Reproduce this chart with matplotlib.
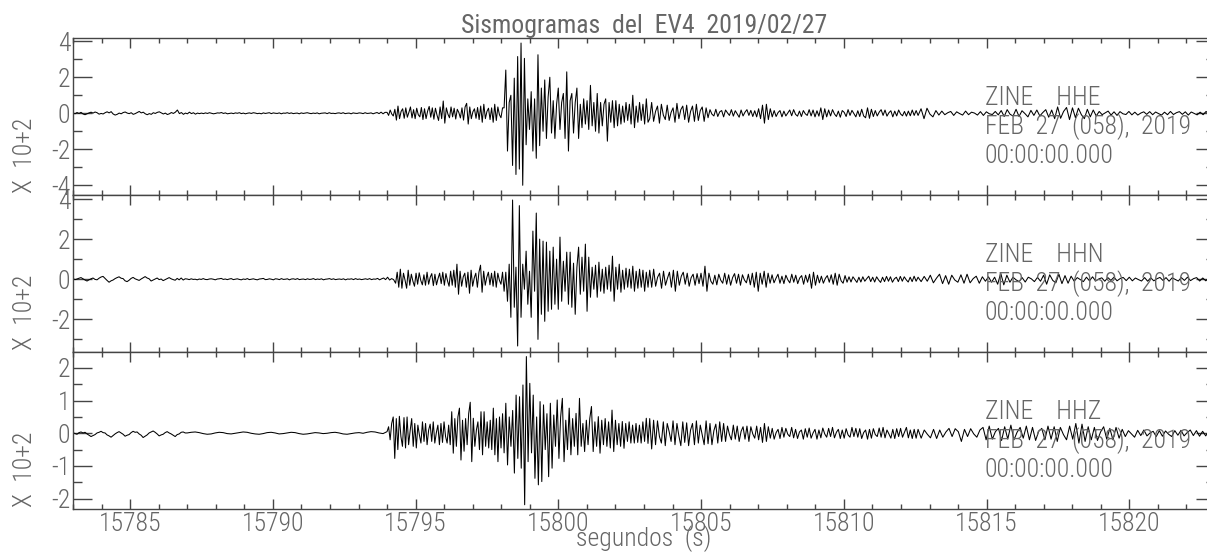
import numpy as np
from matplotlib import pyplot as plt
from matplotlib import font_manager
from matplotlib.ticker import MultipleLocator, FormatStrFormatter

TITLE = "Sismogramas  del  EV4  2019/02/27"
XLABEL = "segundos  (s)"
YLABEL = "X  10+2"
STATION = "ZINE"
CHANNELS = ["HHE", "HHN", "HHZ"]
DATE_LINE = "FEB  27  (058),  2019"
TIME_LINE = "00:00:00.000"
T_START, T_END = 15783.0, 15823.0
YLIMS = [(-4.54, 4.18), (-3.63, 4.2), (-2.32, 2.49)]
Y_MAJOR = [2, 2, 1]
Y_MINOR = [1, 1, 0.5]

# amplitudes, in hundredths of the plotted unit (X 10+2),
# one list per time window; samples are spread evenly inside each window
HHE_BREAKS = [15783.0, 15787.5, 15794.0, 15798.1, 15803.2, 15812.6, 15823.0]
HHE_PRE1 = [2, -3, 4, -1, 5, -4, -8, -3, 2, 6, 1, 7, 3, -5, -1, -4, 3, 8, 2, 9, -4, -10, -6, 1,
            -3, 4, 7, 1, -2, 3, -6, -2, 4, 10, 2, 6, -3, -8, -2, -6, 3, -1, 5, 8, 2, -4, 1, -7,
            -3, 4, -1, 6, 18, -2, 4, -6, 1, -3, 6, -2, 3, -5, 1, -2]
HHE_PRE2 = [1, -2, 2, -1, 3, 0, -3, -1, 2, 1, 4, -1, 2, -3, -1, 1, -2, 2, 0, 3, -2, 1, -3, 0,
            2, -1, 3, 1, -2, 0, -3, 2, -1, 1, 3, -2, 2, 0, -1, 2, -3, 1, 0, 3, -1, 2, -2, 0,
            1, -3, 2, -1, 1, 3, 0, -2, 1, -1, 2, -3, 0, 1, 2, -2, 3, -1, 0, -2, 1, 2, -1, 3,
            -2, 0, 1, -3, 2, 0, -1, 2, 1, -2, 3, -1, 0, 2, -3, 1, 4, -2, 6, -3, 5]
HHE_P = [5, -12, 18, -4, -15, 22, -38, 40, -30, 10, 25, -28, 30, -22, 5, 35, -26, 20, -30, 28,
         -8, -20, 32, -35, 25, -30, 12, 38, -22, 30, -33, 28, -10, -40, 35, -30, 68, -55, 30, -5,
         -25, 35, -20, 28, -32, 22, 4, -26, 30, -38, 35, 55, -60, 35, -30, 8, 25, -28, 32, -35,
         40, -50, 50, -30, 10, 28, -35, 30, -50, 50, -40, 35, -8, -25, 30]
HHE_S = [30, 240, -210, 60, 100, -290, 195, -340, 315, -310, 390, -400, 305, -175, 80, -90, 120, -210,
         80, -250, 325, -180, 140, -100, 185, -140, 90, 200, -110, 70, -140, 50, 140, -90, 60, 110,
         -140, 230, -210, 70, 110, -110, 60, 140, -140, 50, -80, 80, -60, 70, -90, 155, -70, 60,
         -100, 110, -110, 60, -70, 50, 80, -155, 60, -50, 70, -80, 70, -70, 50, -60, 40, -50, 60,
         -40, 50, -60, 100, -80, 40, -50, 60, -40, 50, -60, 80, -50]
HHE_CODA = [-30, 60, -45, 10, 40, -55, 50, -10, -35, 45, -40, 5, 30, -50, 55, -30, 20, 40, -35,
            45, -50, 10, 40, -45, 50, -40, 15, 35, -45, 30, -25,
            20, -5, -15, 22, -18, 8, 15, -20, 18, 2, -12, 20, -16, 14, -4, -22, 18, -15, 6, 20,
            -12, 16, -18, 14, -20,
            25, -30, 45, -55, 50, -35, 25, -20, 15,
            -18, 4, 15, -20, 12, -15, 2, 18, -14, 20, -6, -16, 12, -18, 15, -3, -12, 20, -15, 18,
            -20, 14, -16,
            30, -35, 25, -20, 18,
            -15, 20, -4, -18, 12, -22, 15, 5, -18, 20, -12, 16, -2, -20, 14, -18, 22, -15,
            -25, 30, -28, 22, -18, 15,
            -15, 6, 20, -12, 18, -16, 3, 14, -20, 12, -15, 18, -4, -14, 10, -16, 12, -14, 18, -12, 15]
HHE_END = [-12, 25, -30, 28, -5, -20, 15, -10, 12,
           -8, 3, 10, -12, 8, -2, -10, 12, -8, 6, 1, -10, 9, -12, 8, -3, -7, 10, -9,
           15, -18, 20, -6, -15, 22, -18, 14, -2, -20, 16, -12, 18, -15, 4, 20, -22, 18,
           -30, 35, -28, 10, 32, -35, 30, -25, 28, -8, -30, 22, -20, 18, -15,
           10, -8, 2, 12, -10, 8, -12, 9, -3, -7, 10, -9, 6, -10, 1, 8, -6, 9, -8, 7, -2, -10,
           6, -8, 10, -7, 3, 9, -6, 8, -10, 7, -1, -9, 6, -8, 10, -7, 5]

HHN_BREAKS = [15783.0, 15787.0, 15794.3, 15798.1, 15803.2, 15812.6, 15823.0]
HHN_PRE1 = [3, -2, 1, 5, 8, 2, -4, -9, -3, 2, 6, -1, -3, 5, 11, 14, 4, -6, -15, -8, -4, 3, 8, 12,
            5, 3, -8, -12, -5, 4, 9, 2, -2, -6, 1, 7, 13, 6, 2, -9, -4, 1, 6, -2, 1, -7, -2, 3,
            8, 2, -2, -5, 4, -3, 6, -4, 2]
HHN_PRE2 = [1, -2, 2, -1, 0, -3, 1, -1, 3, -1, -2, 1, 2, 0, -3, 1, 2, 4, -1, 1, -2, 1, 3, -2,
            0, 2, -1, -3, 1, -1, 3, -2, 0, 2, -1, -3, 1, 2, 4, -2, -1, 2, 0, -3, 2, 1, -2, 3,
            -1, 0, 2, -3, 1, 2, -1, 3, -2, 0, 1, -2, 2, -1, 0, 3, -2, 1, -1, 2, -3, 0, 1, 3,
            -1, 2, -2, 0, 1, -1, 2, -3, 1, 0, 2, -2, 3, -1, 1, -2, 0, 2, -1, 3, -2, 1, 0, 4,
            -3, 2, 6, -2, 10, -4, 3, -2]
HHN_P = [-20, 35, -40, 50, -45, 30, -5, -45, 45, -30, 25, -10, -35, 30, -25, 32, -6, -28, 22, -30,
         35, -25, 10, 28, -32, 25, -28, 4, 30, -22, 35, -30, 28, -8, -35, 40, -30, 45, -40, 75,
         -75, 40, -35, 12, 30, -40, 35, -70, 45, -35, 6, 30, -40, 35, 70, -65, 40, -30, 10, 35,
         -28, 30, -35, 40, -40, 30, -5, -25, 35]
HHN_S = [-60, 35, -110, 75, -190, 395, -140, 60, -333, 367, -190, 75, -50, 140, -125, 40, -190, 240,
         -60, 330, -300, 200, -175, 190, -210, 185, -160, 140, -150, 160, -125, 100, -150, 210, -110,
         90, -60, 135, -125, 135, -140, 80, -175, 60, 160, -75, 110, -60, 175, -160, 110, -90, 60,
         -50, 70, -90, 85, -60, 50, -70, 60, -50, 70, -60, 115, -110, 60, -50, 75, -65, 45, -50,
         55, -40, 50, -45, 65, -60, 40, -45, 50, -40, 45, -60, 35, -40]
HHN_CODA = [45, -40, 50, -35, 10, 30, -45, 40, -30, 5, 35, -40, 45, -60, 40, -30, 15, 35,
            -25, 30, -35, 8, 25, -30, 28, -22, 30, -35, 65, -60, 30, -10, -25,
            20, -28, 25, -5, -20, 30, -25, 22, -30, 8, 28, -20, 25, -30, 22, -4, -18, 25, -28,
            30, -40, 35, -60, 30, -25, 40, -40, 30, -20,
            22, -18, 5, 25, -20, 15, -22, 20, -3, -18, 25, -15, 20, -22, 6, 18, -25, 20, -15,
            25, -45, 35, -30, 20, -18,
            15, -20, 4, 18, -15, 22, -25, 30, -30, 25, -8, -20, 18, -15, 12,
            -14, 12, -2, -16, 10, -14, 12, -10, 3, 15, -12, 10, -14, 12, -4, -16, 10, -12, 14,
            -10, 12, -15, 2, 10, -12, 14, -10, 12, -3, -14, 10, -12, 15, -10]
HHN_END = [10, -12, 14, -10,
           20, -18, 5, 25, -22, 18, -25, 20, -4, -15, 22, -20, 25, -18, 3, 15, -20, 12,
           -10, 12, -15, 10,
           -25, 30, -28, 20, -15,
           10, -3, -12, 8, -14, 10, 2, -12, 9, -10,
           20, -25, 22, -6, -18, 25, -22, 18, -20, 15,
           -10, 8, -2, -12, 10, -8, 12, -9, 1, 7, -10, 8, -6, 10, -8, 3, 9, -7, 10, -8, 6, -2,
           -9, 8, -10, 7, -8, 2, 9, -6, 8, -10, 7, -1, -9, 8, -6, 10, -7, 3, 8, -9, 6, -8, 7, -5]

HHZ_BREAKS = [15783.0, 15787.0, 15794.0, 15798.1, 15803.2, 15812.6, 15823.0]
HHZ_PRE1 = [2, -1, -3, 2, 4, 1, 3, -2, -6, -10, -7, -4, 1, 3, 6, 2, 1, -5, -8, -12, -7, -2, 2, 5,
            1, -3, -9, -6, -4, 2, 6, 3, 4, -2, -6, -13, -9, -5, 1, 4, 7, 3, -2, -8, -5, -3, 2, 5,
            1, -2, -6, -10, -4, -2, 3, 4, 1]
HHZ_PRE2 = [1, 3, 4, 2, -1, -3, -2, 1, 3, 2, -1, -2, 0, 2, 4, 3, 0, -2, -3, -1, 2, 3, 1, -2,
            -1, 1, 3, 2, -1, -3, -2, 0, 2, 1, -1, 0, 2, 3, 1, -2, -3, -1, 1, 2, 0, 3, 5, 4, 1, -1]
HHZ_P = [5, 20, -20, 30, 50, -77, 45, -50, 52, -10, -40, 48, -45, 50, -35, 8, 45, -40, 30, -45,
         25, -5, -30, 35, -25, 30, -35, 10, 28, -25, 35, -30, 2, 25, -35, 30, -28, 35, -10, -30,
         25, -35, 66, -61, 45, -40, 50, 77, -82, 40, -55, 45, -35, 60, 95, -87, 46, -40, 10, 35,
         -50, 66, -66, 66, -40, 35, -45, 40, -50, 77, -66, 45, -87, 50, -45, 60]
HHZ_S = [-60, 92, -97, 50, -40, 70, -122, 117, -77, 112, -107, 148, -219, 235, -87, 153, -60, 117,
         -138, 50, -158, 97, -148, 87, -50, 60, -133, 92, -107, 56, -40, 102, -77, 50, 107, -87, 40,
         -50, 77, -66, 45, -40, 61, -66, 107, -40, 30, -56, 40, -35, 45, 82, -56, 35, -40, 51, -61,
         40, -35, 45, -40, 35, -45, 71, -56, 40, -35, 30, -40, 36, -46, 30, -25, 35, -30, 25, -30,
         30, -28, 25, -30, 35, -25, 46, -31]
HHZ_CODA = [45, -48, 40,
            -35, 38, -10, -30, 35, -38, 30, 5, -25, 38, -35, 30, -8, -38, 35, -28, 32, -38, 10,
            30, -35, 38, -30, 25, -5, -35, 38, -32, 30, -35, 8, 28, -30, 35, -25, 30,
            -25, 22, -4, -20, 25, -18, 22, -25, 6, 20, -18, 22, -25, 20, -2, -15, 22, -20, 18,
            -28, 30, -25, 20, -15,
            15, -18, 2, 12, -16, 18, -12, 15, -3, -10, 18, -14, 12, -16, 4, 10, -18, 14, -12, 16,
            -15, 1, 12, -18, 10, -14, 16, -2, -12, 15, -10, 18, -14, 3, 12, -16, 10, -15, 14, -5,
            -12, 18, -10, 15, -12, 14, -16, 2, 10, -18, 12, -15, 14, -4, -10, 16, -12, 18, -14,
            10, -2, -15, 12, -16, 14, -10, 15, -12, 3, 18, -14, 10, -16, 12, -15]
HHZ_END = [12, -15, 10, -3, -14, 12, -16, 10, -12, 4, 15, -10, 14, 5, -25, 12, -10, 14, -2, -12, 10,
           18, -20, 22, -18, 5, 15, -22, 20, -18, 25, -20, 3, 18, -15, 22, -20, 18, -22, 6, 15,
           -20, 22, -18, 20, -25, 18, -4, -20, 22, -18,
           30, -30, 28, -25, 20,
           -20, 18, -22, 4, 20, -18, 15, -20, 18, -15, 12,
           -10, 8, -2, -12, 9, -7, 10, -8, 1, 6, -10, 8, -9, 7, -3, -10, 8, -6, 9, -8, 2, 10,
           -7, 8, -9, 6, -8, 7, -5]

TRACES = [
    (HHE_BREAKS, [HHE_PRE1, HHE_PRE2, HHE_P, HHE_S, HHE_CODA, HHE_END]),
    (HHN_BREAKS, [HHN_PRE1, HHN_PRE2, HHN_P, HHN_S, HHN_CODA, HHN_END]),
    (HHZ_BREAKS, [HHZ_PRE1, HHZ_PRE2, HHZ_P, HHZ_S, HHZ_CODA, HHZ_END]),
]

TEXT_COLOR = "#666666"
AXIS_COLOR = "#454545"
FS = 18.5


def pick_font():
    for name in ["Liberation Sans Narrow", "Roboto Condensed", "Open Sans Condensed"]:
        try:
            font_manager.findfont(name, fallback_to_default=False)
            return name, "normal"
        except ValueError:
            pass
    return "DejaVu Sans", "condensed"


def build_trace(breaks, segments):
    t, a = [], []
    for t0, t1, vals in zip(breaks[:-1], breaks[1:], segments):
        t.append(np.linspace(t0, t1, len(vals), endpoint=False))
        a.append(np.array(vals, dtype=float) / 100.0)
    return np.concatenate(t), np.concatenate(a)


family, stretch = pick_font()
plt.rcParams["font.family"] = [family, "DejaVu Sans"]
plt.rcParams["font.stretch"] = stretch
plt.rcParams["font.weight"] = "light"

W, H = 1207.0, 554.0
left = 73 / W
width = (1215 - 73) / W
panel_h = 157
panel_tops = [38, 195, 352]

fig = plt.figure(figsize=(W / 100, H / 100), dpi=100)

axes = []
for k, (breaks, segs) in enumerate(TRACES):
    top = panel_tops[k]
    ax = fig.add_axes([left, 1 - (top + panel_h) / H, width, panel_h / H])
    t, a = build_trace(breaks, segs)
    ax.plot(t, a, color="black", lw=0.75)
    ax.set_xlim(T_START, T_END)
    ax.set_ylim(*YLIMS[k])
    ax.xaxis.set_major_locator(MultipleLocator(5))
    ax.xaxis.set_minor_locator(MultipleLocator(1))
    ax.yaxis.set_major_locator(MultipleLocator(Y_MAJOR[k]))
    ax.yaxis.set_minor_locator(MultipleLocator(Y_MINOR[k]))
    ax.xaxis.set_major_formatter(FormatStrFormatter("%d"))
    ax.yaxis.set_major_formatter(FormatStrFormatter("%d"))
    ax.tick_params(axis="both", which="both", direction="in", top=True, right=True,
                   color=AXIS_COLOR, labelcolor=TEXT_COLOR, labelsize=FS, width=1)
    ax.tick_params(axis="x", which="major", length=7.2, pad=2)
    ax.tick_params(axis="x", which="minor", length=3.6)
    ax.tick_params(axis="y", which="major", length=13.7, pad=2)
    ax.tick_params(axis="y", which="minor", length=6.5)
    if k < 2:
        ax.tick_params(axis="x", labelbottom=False)
    for sp in ax.spines.values():
        sp.set_color(AXIS_COLOR)
        sp.set_linewidth(1)

    x_txt = (985 - 73) / (1215 - 73)
    ax.text(x_txt, 1 - 67 / panel_h, STATION + "    " + CHANNELS[k], transform=ax.transAxes,
            fontsize=FS, color=TEXT_COLOR, ha="left", va="baseline")
    ax.text(x_txt, 1 - 96 / panel_h, DATE_LINE, transform=ax.transAxes,
            fontsize=FS, color=TEXT_COLOR, ha="left", va="baseline")
    ax.text(x_txt, 1 - 125 / panel_h, TIME_LINE, transform=ax.transAxes,
            fontsize=FS, color=TEXT_COLOR, ha="left", va="baseline")

    fig.text(25 / W, 1 - (top + panel_h - 2) / H, YLABEL, rotation=90, fontsize=FS,
             color=TEXT_COLOR, ha="center", va="bottom")
    axes.append(ax)

axes[0].set_title(TITLE, fontsize=FS, color=TEXT_COLOR, pad=3)
fig.text(644 / W, 1 - 546 / H, XLABEL, fontsize=FS, color=TEXT_COLOR, ha="center", va="baseline")

fig.savefig("out.png", dpi=100)
